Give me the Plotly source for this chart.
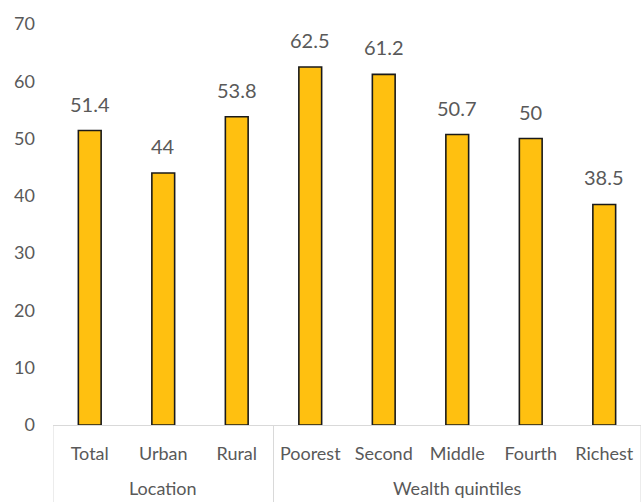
import plotly.graph_objects as go

# Share of respondents by location and wealth quintile
groups = ["Location"] * 3 + ["Wealth quintiles"] * 5
categories = ["Total", "Urban", "Rural", "Poorest", "Second", "Middle", "Fourth", "Richest"]
values = [51.4, 44, 53.8, 62.5, 61.2, 50.7, 50, 38.5]
y_ticks = [0, 10, 20, 30, 40, 50, 60, 70]

FONT = "Lato, 'Open Sans', sans-serif"
GREY = "#595959"
RULE = "#d9d9d9"

fig = go.Figure(
    go.Bar(
        x=categories,
        y=values,
        marker=dict(color="#FFC010", line=dict(color="#1a1a1a", width=1.6)),
        cliponaxis=False,
    )
)

# value labels above each bar
for cat, v in zip(categories, values):
    fig.add_annotation(
        x=cat, y=v, xref="x", yref="y",
        text=f"{v:g}", showarrow=False,
        yanchor="middle", yshift=27,
        font=dict(family=FONT, size=20, color=GREY),
    )

# group labels and the dividers between groups
group_order = []
for g in groups:
    if g not in group_order:
        group_order.append(g)

start = 0
fig.add_shape(type="line", xref="x", yref="paper",
              x0=-0.5, x1=-0.5, y0=0, y1=-0.2,
              line=dict(color=RULE, width=1))
for g in group_order:
    n = groups.count(g)
    end = start + n
    fig.add_annotation(
        x=(start + end - 1) / 2, y=-0.158, xref="x", yref="paper",
        text=g, showarrow=False, yanchor="middle",
        font=dict(family=FONT, size=18, color=GREY),
    )
    fig.add_shape(type="line", xref="x", yref="paper",
                  x0=end - 0.5, x1=end - 0.5, y0=0, y1=-0.2,
                  line=dict(color=RULE, width=1))
    start = end

fig.update_layout(
    width=641,
    height=502,
    margin=dict(l=53, r=0, t=24, b=77),
    paper_bgcolor="white",
    plot_bgcolor="white",
    bargap=0.69,
    showlegend=False,
    font=dict(family=FONT, size=18, color=GREY),
)

fig.update_xaxes(
    range=[-0.5, len(categories) - 0.5],
    showline=True,
    linecolor=RULE,
    linewidth=1,
    showgrid=False,
    ticks="",
    ticklabelstandoff=12,
    tickfont=dict(family=FONT, size=18, color=GREY),
)

fig.update_yaxes(
    range=[0, 70],
    tickvals=y_ticks,
    showgrid=False,
    zeroline=False,
    showline=False,
    ticks="",
    ticklen=0,
    ticklabelstandoff=17,
    tickfont=dict(family=FONT, size=18, color=GREY),
)

fig.write_html("out.html")
